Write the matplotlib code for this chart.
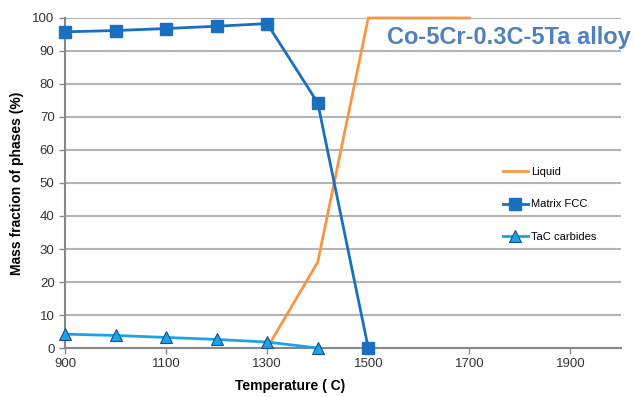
import matplotlib
matplotlib.use("Agg")
import matplotlib.pyplot as plt

# --- Data ---
temp_liquid = [1300, 1400, 1500, 1600, 1700]
liquid = [0, 26, 100, 100, 100]

temp_fcc = [900, 1000, 1100, 1200, 1300, 1400, 1500]
matrix_fcc = [95.8, 96.2, 96.8, 97.5, 98.3, 74.3, 0]

temp_tac = [900, 1000, 1100, 1200, 1300, 1400]
tac = [4.2, 3.8, 3.2, 2.6, 1.8, 0]

x_ticks = [900, 1100, 1300, 1500, 1700, 1900]
y_ticks = list(range(0, 101, 10))

plt.rcParams['font.family'] = ['Liberation Sans', 'DejaVu Sans']

# --- Plot ---
fig = plt.figure(figsize=(6.34, 3.97), dpi=100)
ax = fig.add_axes([0.1025, 0.1234, 0.877, 0.8313])

ax.plot(temp_liquid, liquid, color="#F79646", linewidth=2, label="Liquid",
        zorder=3, clip_on=False)
ax.plot(temp_fcc, matrix_fcc, color="#1B6FC0", linewidth=2, marker="s",
        markersize=8, label="Matrix FCC", zorder=4, clip_on=False)
ax.plot(temp_tac, tac, color="#1AA3E8", linewidth=2, marker="^",
        markersize=8, markeredgecolor="#1B4F8A", markeredgewidth=0.8,
        label="TaC carbides", zorder=3, clip_on=False)

ax.set_xlim(900, 2000)
ax.set_ylim(0, 100)
ax.set_xticks(x_ticks)
ax.set_yticks(y_ticks)
ax.yaxis.grid(True, color="#b4b4b4", linewidth=1.5)
ax.set_axisbelow(True)
ax.tick_params(axis="both", labelsize=9.5, colors="#333333", length=4, width=1)
ax.tick_params(axis="both", color="#888888")
for s in ["top", "right"]:
    ax.spines[s].set_visible(False)
for s in ["left", "bottom"]:
    ax.spines[s].set_color("#888888")
    ax.spines[s].set_linewidth(1.5)

ax.set_xlabel("Temperature ( C)", fontsize=10, fontweight="bold", labelpad=6)
ax.xaxis.set_label_coords(0.405, -0.095)
ax.set_ylabel("Mass fraction of phases (%)", fontsize=10, fontweight="bold", labelpad=6)

fig.text(0.995, 0.905, "Co-5Cr-0.3C-5Ta alloy", fontsize=17, fontweight="bold",
         color="#4F81BD", ha="right", va="center")

leg = ax.legend(loc="center left", bbox_to_anchor=(0.77, 0.435), frameon=False,
                fontsize=8, handlelength=2.2, labelspacing=2.0, handletextpad=0.3)

# --- Render ---
plt.savefig("out.png", dpi=100)
plt.close()
